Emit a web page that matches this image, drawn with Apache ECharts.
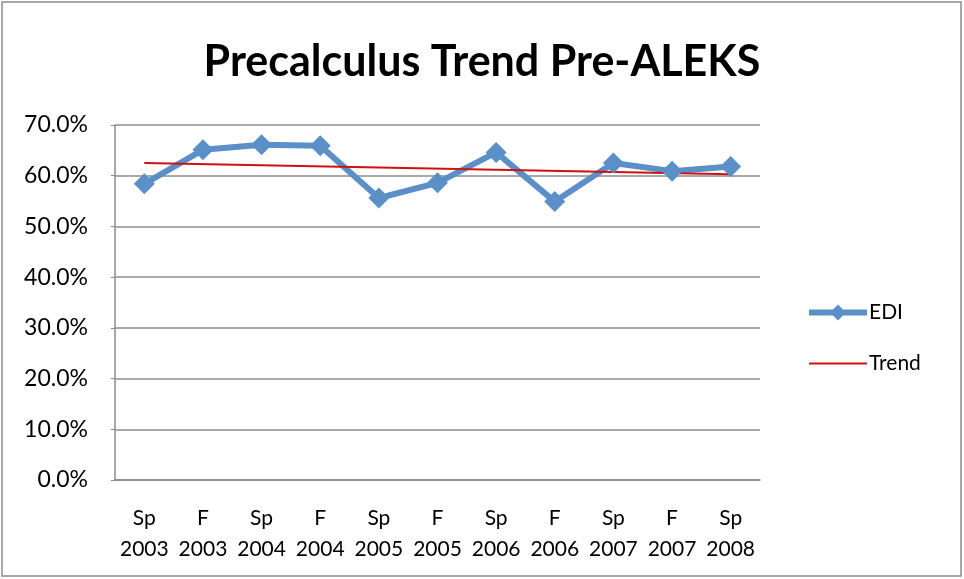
<!DOCTYPE html>
<html lang="en" style="height: 100%">
<head>
    <meta charset="utf-8">
</head>
<body style="height: 100%; margin: 0">
<div id="main" style="width: 964px; height: 579px"></div>
<script src="https://cdn.jsdelivr.net/npm/echarts@6/dist/echarts.min.js"></script>
<script type="text/javascript">
    // categories (term + year)
    var terms = ['Sp\n2003', 'F\n2003', 'Sp\n2004', 'F\n2004', 'Sp\n2005', 'F\n2005',
        'Sp\n2006', 'F\n2006', 'Sp\n2007', 'F\n2007', 'Sp\n2008'];
    // EDI pass rate, percent
    var edi = [58.4, 65.1, 66.1, 65.9, 55.6, 58.6, 64.6, 54.9, 62.5, 60.9, 61.8];
    // trend line, read at its two ends
    var trend = [62.5, null, null, null, null, null, null, null, null, null, 60.3];

    var font = 'Lato, "Open Sans", sans-serif';
    var chart = echarts.init(document.getElementById('main'));

    chart.setOption({
        animation: false,
        textStyle: { fontFamily: font },
        title: {
            text: 'Precalculus Trend Pre-ALEKS',
            left: 'center',
            top: 36,
            textStyle: { fontSize: 43, fontWeight: 'bold', color: '#000', fontFamily: font }
        },
        graphic: [{
            type: 'rect',
            shape: { x: 2, y: 2, width: 959, height: 574 },
            style: { fill: 'none', stroke: '#8c8c8c', lineWidth: 1.5 }
        }],
        legend: {
            orient: 'vertical',
            left: 801,
            top: 297,
            itemGap: 30,
            itemWidth: 58,
            itemHeight: 20,
            textStyle: { fontSize: 21, color: '#000', fontFamily: font, padding: [0, 0, 0, -3] },
            data: [
                { name: 'EDI', lineStyle: { width: 6 } },
                { name: 'Trend', itemStyle: { opacity: 0 }, lineStyle: { width: 2 } }
            ]
        },
        grid: { left: 115, right: 204, top: 125, bottom: 99 },
        xAxis: {
            type: 'category',
            data: terms,
            boundaryGap: true,
            axisLine: { lineStyle: { color: '#8c8c8c', width: 1.5 } },
            axisTick: { show: false },
            axisLabel: { fontSize: 21, color: '#000', lineHeight: 31, margin: 23, interval: 0 }
        },
        yAxis: {
            type: 'value',
            min: 0,
            max: 70,
            interval: 10,
            axisLine: { show: true, lineStyle: { color: '#8c8c8c', width: 1.5 } },
            axisTick: { show: true, length: 4, lineStyle: { color: '#8c8c8c' } },
            splitLine: { lineStyle: { color: '#8c8c8c', width: 1.5 } },
            axisLabel: {
                fontSize: 23, color: '#000', margin: 27,
                formatter: function (v) { return v.toFixed(1) + '%'; }
            }
        },
        series: [{
            name: 'EDI',
            type: 'line',
            data: edi,
            symbol: 'diamond',
            symbolSize: 21,
            itemStyle: { color: '#5b8fc8' },
            lineStyle: { color: '#5b8fc8', width: 6 }
        }, {
            name: 'Trend',
            type: 'line',
            data: trend,
            connectNulls: true,
            showSymbol: false,
            symbol: 'none',
            itemStyle: { color: '#d01010' },
            lineStyle: { color: '#d01010', width: 2 }
        }]
    });
</script>
</body>
</html>
